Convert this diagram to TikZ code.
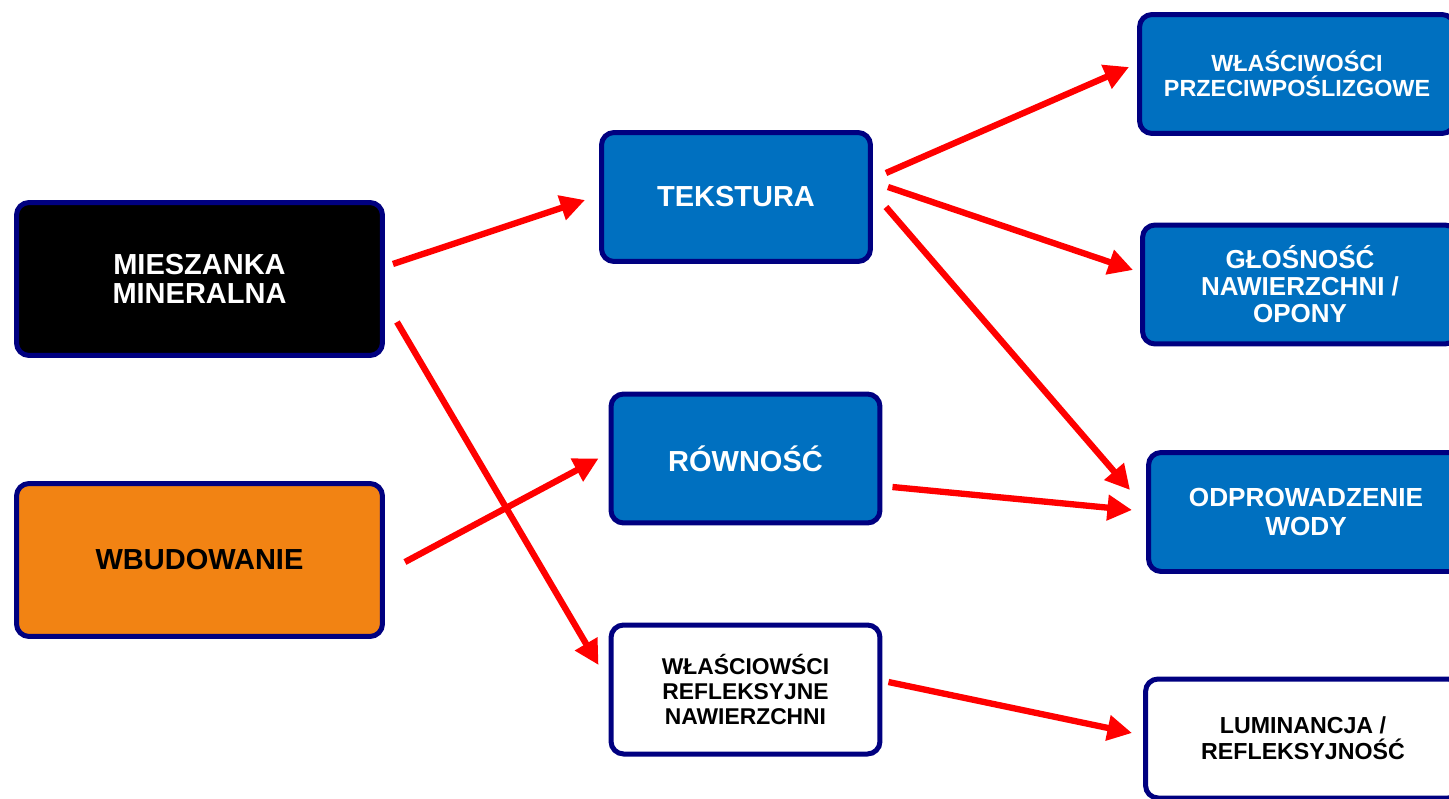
\documentclass[tikz,border=0pt]{standalone}
\usepackage{fontspec}
\setmainfont{Liberation Sans}
\usetikzlibrary{arrows.meta}

\definecolor{boxblue}{RGB}{0,112,192}
\definecolor{boxnavy}{RGB}{0,0,128}
\definecolor{boxorange}{RGB}{242,131,19}

\begin{document}
\begin{tikzpicture}[x=0.02cm, y=-0.02cm,
    box/.style={draw=boxnavy, line width=0.1cm, rounded corners=0.25cm, align=center, font=\bfseries},
    bigbox/.style={box, minimum width=7.32cm, minimum height=3.06cm, font=\bfseries\fontsize{16.5}{16.5}\selectfont},
    midbox/.style={box, minimum width=5.38cm, minimum height=2.58cm},
    sidebox/.style={box, minimum width=6.3cm, minimum height=2.38cm},
    arr/.style={red, line width=3.6pt, -{Triangle[length=14pt,width=14pt]}}]

    \clip (0,0) rectangle (1449,798);

	%1
	\node[bigbox, fill=black, text=white] (mix) at (199.5,279) {MIESZANKA\\MINERALNA};
	\node[bigbox, fill=boxorange, text=black] (wbud) at (199.5,560) {WBUDOWANIE};

	%2
	\node[midbox, fill=boxblue, text=white, font=\bfseries\fontsize{16.5}{18}\selectfont] (tex) at (736,197) {TEKSTURA};
	\node[midbox, fill=boxblue, text=white, font=\bfseries\fontsize{16.5}{18}\selectfont] (rown) at (745.5,458.5) {RÓWNOŚĆ};
	\node[midbox, fill=white, text=black, font=\bfseries\fontsize{13}{14.3}\selectfont] (refl) at (745.5,689.5) {WŁAŚCIOWŚCI\\REFLEKSYJNE\\NAWIERZCHNI};

	%3
	\node[sidebox, fill=boxblue, text=white, font=\bfseries\fontsize{13.3}{14.3}\selectfont] (prz) at (1297,74) {WŁAŚCIWOŚCI\\PRZECIWPOŚLIZGOWE};
	\node[sidebox, fill=boxblue, text=white, font=\bfseries\fontsize{14.8}{15.4}\selectfont] (glos) at (1300,284.5) {GŁOŚNOŚĆ\\NAWIERZCHNI /\\OPONY};
	\node[sidebox, fill=boxblue, text=white, font=\bfseries\fontsize{14.9}{16}\selectfont] (odpr) at (1306,512) {ODPROWADZENIE\\WODY};
	\node[sidebox, fill=white, text=black, font=\bfseries\fontsize{13.2}{14.8}\selectfont] (lum) at (1303,738.5) {LUMINANCJA /\\REFLEKSYJNOŚĆ};

	%arrows
	\draw[arr] ([shift={(8,-15)}]mix.east) -- ([shift={(-14,3)}]tex.west);
	\draw[arr] ([shift={(12,43)}]mix.east) -- ([shift={(-10,-24.5)}]refl.west);
	\draw[arr] ([shift={(20,2)}]wbud.east) -- ([shift={(-10,0)}]rown.west);

	\draw[arr] ([shift={(13,-24)}]tex.east) -- ([shift={(-8,-7)}]prz.west);
	\draw[arr] ([shift={(15,-10)}]tex.east) -- ([shift={(-7,-14.5)}]glos.west);
	\draw[arr] ([shift={(13,10)}]tex.east) -- ([shift={(-16,-22)}]odpr.west);

	\draw[arr] ([shift={(10,28.5)}]rown.east) -- ([shift={(-14,-2)}]odpr.west);
	\draw[arr] ([shift={(6,-7.5)}]refl.east) -- ([shift={(-11,-5.5)}]lum.west);

\end{tikzpicture}
\end{document}
